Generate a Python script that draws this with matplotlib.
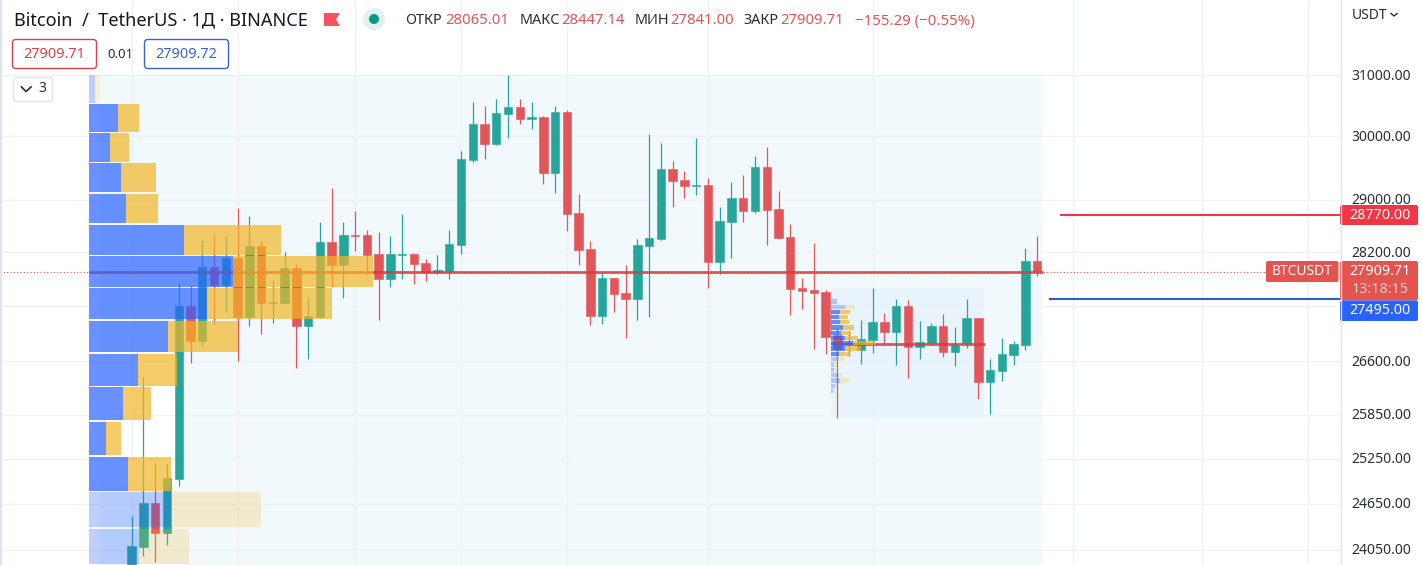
# BTC/USDT daily candles with visible-range volume profiles

import matplotlib
matplotlib.use('Agg')
import matplotlib.pyplot as plt
from matplotlib.patches import FancyBboxPatch, Rectangle, Circle, Polygon

plt.rcParams['font.family'] = ['Noto Sans', 'DejaVu Sans']

opens = [23700,24093,24666,24274,24984,27399,26897,27977,27709,28112,27239,28293,27445,27448,27962,27109,
         27239,28354,28012,28460,28460,28172,27793,28162,28172,28037,27902,27912,28313,29624,30200,29879,
         30362,30476,30280,30313,29419,30394,28797,28247,27253,27813,27590,27502,28293,28399,29482,29309,
         29210,29231,28052,28658,29028,28828,29513,28858,28429,27665,27635,27605,26979,26864,26763,26907,
         27166,27022,27399,26806,26864,27109,26735,26864,27224,26309,26464,26692,26835,28065.01]
highs = [24491,26383,25195,25181,27743,27709,28384,28475,28445,28874,28751,28374,27783,28202,28022,27531,
         28658,29180,28658,28832,28536,28501,28445,28781,28187,28092,28157,28536,29766,30557,30492,30605,
         31005,30605,30557,30329,30492,30427,29091,28369,27902,27813,28007,28399,30039,29894,29608,29450,
         29975,29340,28889,29278,29387,29687,29830,29137,28627,27813,28338,27635,27080,27041,27195,27665,
         27297,27502,27487,27181,27152,27283,27094,27502,27224,26635,26936,26893,28262,28447.14]
lows = [23650,23973,23900,24115,24887,26578,26821,27137,27316,26611,27109,26993,27157,27443,26512,26635,
        27224,27679,27517,28217,27857,27195,27679,27802,27724,27773,27867,27798,28172,29597,29640,29863,
        29975,30200,30119,29247,29106,28521,28007,27123,27137,27312,26936,27195,27239,28384,28889,29028,
        29075,27665,27872,28112,28658,28797,28308,28399,27268,27356,26777,26706,25808,26682,26564,26720,
        26850,26550,26365,26635,26835,26664,26536,26792,26071,25863,26323,26550,26763,27841.00]
closes = [24102,24666,24274,24993,27399,26897,27977,27709,28112,27239,28293,27448,27455,27962,27109,27253,
          28354,28012,28460,28450,28161,27793,28172,28172,28027,27902,27932,28323,29640,30200,29879,30378,
          30476,30280,30313,29419,30394,28781,28232,27253,27813,27576,27502,28308,28414,29482,29293,29215,
          29225,28052,28674,29028,28828,29513,28843,28414,27650,27620,27590,26950,26777,26850,26921,27166,
          27022,27399,26806,26878,27109,26735,26835,27224,26309,26479,26706,26850,28065,27909.71]

# full-range volume profile, rows from the top down
row_centers = [30773,30296,29819,29342,28865,28388,27911,27434,26957,26480,26003,25526,25049,24572,24095]
row_up = [6,29,21,32,37,95,144,118,79,49,34,17,39,82,50]
row_down = [5,21,19,35,32,97,140,125,70,39,28,15,43,90,50]
row_faint = [True,False,False,False,False,False,False,False,False,False,False,False,False,True,True]

# fixed-range profile
small_centers = [27464,27388,27313,27237,27162,27086,27010,26935,26859,26784,26708,26632,26557,26481,26406,26330,26254,26179]
small_up = [6,14,9.3,8,9.3,12.3,10,14,22,14,8,6,3,3,7,9,4,2]
small_down = [0,10,9.7,8.7,8.7,10.7,10,13,22,16,11,8,3,2,4,9,2,2]
small_faint = [True,True,False,False,False,False,False,False,False,False,False,True,True,True,True,True,True,True]

tick_prices = [31000,30000,29000,28200,26600,25850,25250,24650,24050]
grid_prices = [31000,30000,29000,28200,27400,26600,25850,25250,24650,24050]
month_starts = [0,9,19,28,37,49,63,80,91,100]

last_price = 27909.71
poc_main = 27900
poc_small = 26850
level_high = 28770
level_low = 27495

TEAL = '#26A69A'
RED = '#E25558'
BLUE = '#2962FF'
YELLOW = '#F2B627'
DARK = '#2A2E39'
GRID = '#EEF1F5'


def to_idx(px):
    return (px - 131.7) / 11.76


fig = plt.figure(figsize=(14.22, 5.65), dpi=100, facecolor='white')
ax = fig.add_axes([0, 0, 1, 1])
ax.set_yscale('log')
ax.set_xlim(to_idx(0), to_idx(1422))
ax.set_ylim(23857, 32268)
ax.axis('off')

# backgrounds
ax.fill_between([to_idx(100), to_idx(1042)], 23857, 31000, color='#F1F9FD', lw=0, zorder=0)
ax.fill_between([to_idx(100), to_idx(178)], 24900, 26730, color='white', lw=0, zorder=0.5)
ax.fill_between([to_idx(831), to_idx(984)], 25821, 27665, color='#E8F3FB', lw=0, zorder=0.6)

# grid
ax.hlines(grid_prices, to_idx(0), to_idx(1340), color=GRID, lw=0.9, zorder=1)
ax.vlines(month_starts, 23857, 32268, color=GRID, lw=0.9, zorder=1)

# last price and levels
ax.hlines(poc_main, to_idx(0), to_idx(1266), color=RED, lw=0.8, linestyles=(0, (1, 2)), zorder=1.5)
ax.hlines(level_high, to_idx(1060), to_idx(1340), color='#E8384A', lw=1.5, zorder=1.5)
ax.hlines(level_low, to_idx(1049), to_idx(1340), color='#2F5BC9', lw=1.5, zorder=1.5)

# candles
for i in range(len(opens)):
    col = TEAL if closes[i] >= opens[i] else RED
    ax.vlines(i, lows[i], highs[i], color=col, lw=0.9, zorder=2)
    ax.bar(i, abs(closes[i] - opens[i]), bottom=min(opens[i], closes[i]), width=0.72,
           color=col, edgecolor=col, lw=0.4, zorder=2)

# points of control
ax.hlines(poc_main, to_idx(89), to_idx(1043), color='#DD3A3A', lw=2.0, alpha=0.85, zorder=3)
ax.hlines(poc_small, to_idx(831), to_idx(985), color='#D93A3A', lw=2.0, alpha=0.85, zorder=3)

# volume profiles sit over the candles
for k in range(len(row_centers)):
    a_up, a_dn = (0.3, 0.22) if row_faint[k] else (0.7, 0.7)
    left = to_idx(89)
    ax.barh(row_centers[k], row_up[k] / 11.76, height=458, left=left, color=BLUE, alpha=a_up, lw=0, zorder=4)
    ax.barh(row_centers[k], row_down[k] / 11.76, height=458, left=left + row_up[k] / 11.76,
            color=YELLOW, alpha=a_dn, lw=0, zorder=4)
for k in range(len(small_centers)):
    a_up, a_dn = (0.3, 0.22) if small_faint[k] else (0.7, 0.7)
    left = to_idx(831)
    ax.barh(small_centers[k], small_up[k] / 11.76, height=62, left=left, color=BLUE, alpha=a_up, lw=0, zorder=4)
    ax.barh(small_centers[k], small_down[k] / 11.76, height=62, left=left + small_up[k] / 11.76,
            color=YELLOW, alpha=a_dn, lw=0, zorder=4)

# price scale labels
for p in tick_prices:
    ax.annotate('%.2f' % p, (to_idx(1351), p), xytext=(0, -1), textcoords='offset pixels',
                fontsize=10.1, color=DARK, va='center', ha='left', zorder=6)

# chrome in pixel coordinates
top = fig.add_axes([0, 0, 1, 1], zorder=5)
top.set_xlim(0, 1422)
top.set_ylim(565, 0)
top.axis('off')
top.patch.set_alpha(0)

top.add_patch(Rectangle((0, 0), 1.8, 565, color='#E0E3EB', lw=0))
top.plot([1340.5, 1340.5], [0, 565], color='#E0E3EB', lw=1)


def txt(x, y, s, col=DARK, size=10.4, ha='left', **kw):
    top.text(x, y, s, color=col, fontsize=size, ha=ha, va='center', **kw)


def pill(x0, y0, x1, y1, edge, face='white', r=3.5, lw=1.0):
    top.add_patch(FancyBboxPatch((x0 + r, y0 + r), x1 - x0 - 2 * r, y1 - y0 - 2 * r,
                                 boxstyle='round,pad=%s,rounding_size=%s' % (r, r),
                                 fc=face, ec=edge, lw=lw))


# header
txt(14, 20, 'Bitcoin  /  TetherUS · 1Д · BINANCE', '#131722', 13.05)
top.add_patch(Polygon([(324, 13), (340, 13), (336, 19.5), (340, 26), (324, 26)], color='#F7525F', lw=0))
top.add_patch(Circle((374, 19), 11, color='#DFF3EF', lw=0))
top.add_patch(Circle((374, 19), 5, color='#089981', lw=0))

txt(405, 21, 'ОТКР')
txt(445, 21, '28065.01', RED, 10.7)
txt(519.5, 21, 'МАКС')
txt(561, 21, '28447.14', RED, 10.7)
txt(635, 21, 'МИН')
txt(670, 21, '27841.00', RED, 10.7)
txt(743, 21, 'ЗАКР')
txt(780, 21, '27909.71', RED, 10.7)
txt(855, 21, '−155.29 (−0.55%)', RED, 10.8)

pill(12.5, 39.5, 96.5, 68.5, '#D9424C')
txt(54.5, 54, '27909.71', '#D9424C', 10.4, ha='center')
txt(120, 54, '0.01', DARK, 9.4, ha='center')
pill(144.5, 39.5, 228.5, 68.5, '#3A62C8')
txt(186.5, 54, '27909.72', '#3A62C8', 10.4, ha='center')

pill(13.5, 77.5, 52.5, 101.5, '#E0E3EB')
top.plot([21.5, 26, 31], [87, 91.5, 87], color=DARK, lw=1.2)
txt(42, 89, '3', DARK, 10, ha='center')

txt(1352, 15.5, 'USDT', DARK, 10)
top.plot([1391, 1394, 1397], [13.5, 16, 13.5], color=DARK, lw=1)

# price tags
pill(1340, 205, 1418, 225, '#F23645', '#F23645', r=2, lw=0)
txt(1380.5, 215.5, '28770.00', 'white', 10.3, ha='center', fontweight='medium')
pill(1266, 261, 1338.5, 282, '#E5534F', '#E5534F', r=2, lw=0)
txt(1302, 271.5, 'BTCUSDT', 'white', 9.9, ha='center')
pill(1340, 261, 1418, 300.5, '#E5534F', '#E5534F', r=2, lw=0)
txt(1380.5, 271.5, '27909.71', 'white', 10.3, ha='center')
txt(1380.5, 289.5, '13:18:15', '#FAD0CE', 10.3, ha='center')
pill(1340, 300.5, 1418, 321, '#2962FF', '#2962FF', r=2, lw=0)
txt(1380.5, 310.5, '27495.00', 'white', 10.3, ha='center')

fig.savefig('out.png', dpi=100, facecolor='white')
